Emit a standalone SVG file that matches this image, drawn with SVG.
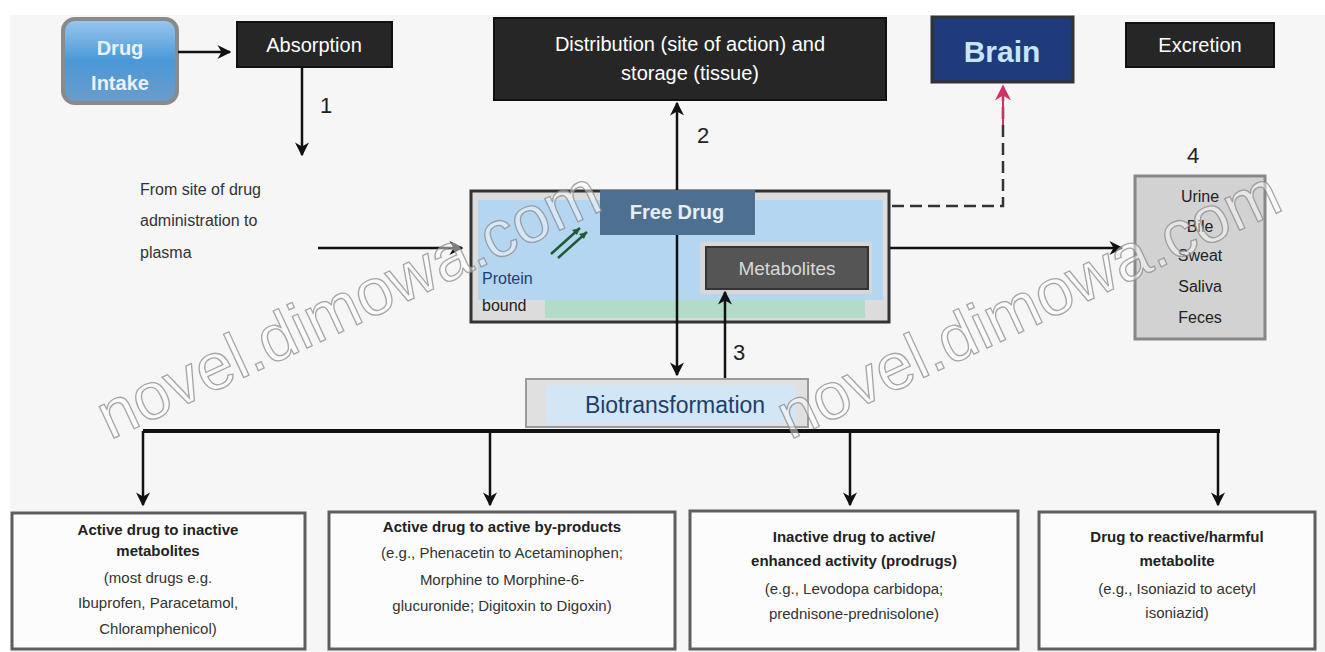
<svg xmlns="http://www.w3.org/2000/svg" width="1325" height="652" viewBox="0 0 1325 652">
<defs>
<style>
.t{font-family:"Liberation Sans",Arial,sans-serif}
.dk{fill:#262626;stroke:#111;stroke-width:2}
.wt{fill:#ffffff;font-size:20px;text-anchor:middle}
.ln{stroke:#111;stroke-width:2.5;fill:none}
.bx{fill:#fcfcfc;stroke:#5e5e5e;stroke-width:3}
.bb{font-size:15px;font-weight:bold;fill:#222;text-anchor:middle}
.bn{font-size:15px;fill:#333;text-anchor:middle}
.ex{font-size:16px;fill:#222;text-anchor:middle}
.wm{font-size:66px;fill:#ffffff;fill-opacity:0.45;stroke:#8a8a8a;stroke-opacity:0.75;stroke-width:1.3;font-family:"Liberation Sans",Arial,sans-serif}
</style>
<marker id="ahb" viewBox="0 0 10 10" refX="9" refY="5" markerWidth="14" markerHeight="14" markerUnits="userSpaceOnUse" orient="auto"><path d="M0,0 L10,5 L0,10 L3,5 z" fill="#111"/></marker>
<marker id="ahr" viewBox="0 0 10 10" refX="9" refY="5" markerWidth="16" markerHeight="16" markerUnits="userSpaceOnUse" orient="auto"><path d="M0,0 L10,5 L0,10 L3,5 z" fill="#d0306a"/></marker>
<linearGradient id="gd" x1="0" y1="0" x2="0" y2="1"><stop offset="0" stop-color="#9cc8ee"/><stop offset="0.5" stop-color="#4a98d8"/><stop offset="1" stop-color="#6c9cc8"/></linearGradient>
</defs>
<rect x="0" y="0" width="1325" height="652" fill="#ffffff"/>
<rect x="10" y="15" width="1315" height="637" fill="#f6f6f6"/>

<g id="drug-intake">
<rect x="63" y="19" width="114" height="84" rx="12" fill="url(#gd)" stroke="#8a8a8a" stroke-width="4"/>
<text class="t" x="120" y="55" font-size="20" font-weight="bold" fill="#e8f2fc" text-anchor="middle">Drug</text>
<text class="t" x="120" y="90" font-size="20" font-weight="bold" fill="#e8f2fc" text-anchor="middle">Intake</text>
</g>

<g id="absorption">
<rect class="dk" x="237" y="22" width="155" height="45"/>
<text class="t wt" x="314" y="52">Absorption</text>
</g>

<g id="from-site" class="t">
<text x="140" y="195" font-size="16" fill="#333">From site of drug</text>
<text x="140" y="226" font-size="16" fill="#333">administration to</text>
<text x="140" y="258" font-size="16" fill="#333">plasma</text>
</g>

<g id="distribution">
<rect class="dk" x="494" y="18" width="392" height="82"/>
<text class="t wt" x="690" y="51">Distribution (site of action) and</text>
<text class="t wt" x="690" y="80">storage (tissue)</text>
</g>

<g id="brain">
<rect x="932" y="17" width="141" height="65" fill="#1f3b7c" stroke="#333" stroke-width="3"/>
<text class="t" x="1002" y="62" font-size="30" font-weight="bold" fill="#c8e6fa" text-anchor="middle">Brain</text>
</g>

<g id="excretion">
<rect class="dk" x="1126" y="23" width="148" height="44"/>
<text class="t wt" x="1200" y="52">Excretion</text>
</g>

<g id="plasma">
<rect x="471" y="191" width="418" height="131" fill="#dcdcdc" stroke="#333" stroke-width="3"/>
<rect x="478" y="200" width="405" height="100" fill="#b4d6f0"/>
<rect x="545" y="300" width="320" height="18" fill="#b2dcc8"/>
<rect x="700" y="242" width="172" height="52" fill="#d6d6d6"/>
<g id="free-drug">
<rect x="600" y="190" width="155" height="45" fill="#4d7090"/>
<text class="t" x="677" y="219" font-size="20" font-weight="bold" fill="#e6eef6" text-anchor="middle">Free Drug</text>
</g>
<g id="metabolites">
<rect x="706" y="247" width="162" height="42" fill="#555555" stroke="#333" stroke-width="2"/>
<text class="t" x="787" y="275" font-size="19" fill="#d8d8d8" text-anchor="middle">Metabolites</text>
</g>
<g id="protein-bound">
<path d="M551,254 L580,228 M558,258 L587,232" stroke="#1f5a34" stroke-width="2.5"/>
<path d="M580,228 l-8,2 l5,5 z M587,232 l-8,2 l5,5 z" fill="#1f5a34"/>
<text class="t" x="482" y="284" font-size="16" fill="#1f3f70">Protein</text>
<text class="t" x="482" y="311" font-size="16" fill="#222">bound</text>
</g>
</g>

<g id="excretion-routes">
<rect x="1135" y="176" width="130" height="163" fill="#d2d2d2" stroke="#888" stroke-width="3"/>
<text class="t ex" x="1200" y="202">Urine</text>
<text class="t ex" x="1200" y="232">Bile</text>
<text class="t ex" x="1200" y="261">Sweat</text>
<text class="t ex" x="1200" y="292">Saliva</text>
<text class="t ex" x="1200" y="323">Feces</text>
</g>

<g id="biotransformation">
<rect x="526" y="379" width="282" height="48" fill="#e0e0e0" stroke="#9a9a9a" stroke-width="2"/>
<rect x="546" y="385" width="250" height="38" fill="#d2e6f6"/>
<text class="t" x="675" y="413" font-size="23" fill="#1d3e6a" text-anchor="middle">Biotransformation</text>
</g>

<g id="box-inactive">
<rect class="bx" x="12" y="513" width="293" height="136"/>
<text class="t bb" x="158" y="535">Active drug to inactive</text>
<text class="t bb" x="158" y="556">metabolites</text>
<text class="t bn" x="158" y="583">(most drugs e.g.</text>
<text class="t bn" x="158" y="608">Ibuprofen, Paracetamol,</text>
<text class="t bn" x="158" y="634">Chloramphenicol)</text>
</g>

<g id="box-active">
<rect class="bx" x="329" y="512" width="346" height="137"/>
<text class="t bb" x="502" y="532">Active drug to active by-products</text>
<text class="t bn" x="502" y="558">(e.g., Phenacetin to Acetaminophen;</text>
<text class="t bn" x="502" y="585">Morphine to Morphine-6-</text>
<text class="t bn" x="502" y="611">glucuronide; Digitoxin to Digoxin)</text>
</g>

<g id="box-prodrugs">
<rect class="bx" x="690" y="511" width="328" height="138"/>
<text class="t bb" x="854" y="542">Inactive drug to active/</text>
<text class="t bb" x="854" y="566">enhanced activity (prodrugs)</text>
<text class="t bn" x="854" y="594">(e.g., Levodopa carbidopa;</text>
<text class="t bn" x="854" y="619">prednisone-prednisolone)</text>
</g>

<g id="box-reactive">
<rect class="bx" x="1039" y="512" width="276" height="137"/>
<text class="t bb" x="1177" y="542">Drug to reactive/harmful</text>
<text class="t bb" x="1177" y="566">metabolite</text>
<text class="t bn" x="1177" y="594">(e.g., Isoniazid to acetyl</text>
<text class="t bn" x="1177" y="618">isoniazid)</text>
</g>

<g id="connectors">
<line class="ln" x1="178" y1="52" x2="230" y2="52" marker-end="url(#ahb)"/>
<line class="ln" x1="302" y1="67" x2="302" y2="155" marker-end="url(#ahb)"/>
<line class="ln" x1="318" y1="248" x2="462" y2="248" marker-end="url(#ahb)"/>
<line class="ln" x1="677" y1="190" x2="677" y2="103" marker-end="url(#ahb)"/>
<line class="ln" x1="677" y1="235" x2="677" y2="375" marker-end="url(#ahb)"/>
<line class="ln" x1="725" y1="378" x2="725" y2="292" marker-end="url(#ahb)"/>
<line class="ln" x1="890" y1="248" x2="1122" y2="248" marker-end="url(#ahb)"/>
<polyline points="892,206 1003,206 1003,88" fill="none" stroke="#333" stroke-width="2.5" stroke-dasharray="12,6"/>
<line x1="1003" y1="125" x2="1003" y2="86" stroke="#d0306a" stroke-width="2" marker-end="url(#ahr)"/>
<line x1="143" y1="431" x2="1220" y2="431" stroke="#111" stroke-width="4"/>
<line class="ln" x1="143" y1="431" x2="143" y2="505" marker-end="url(#ahb)"/>
<line class="ln" x1="490" y1="431" x2="490" y2="505" marker-end="url(#ahb)"/>
<line class="ln" x1="850" y1="431" x2="850" y2="505" marker-end="url(#ahb)"/>
<line class="ln" x1="1218" y1="431" x2="1218" y2="505" marker-end="url(#ahb)"/>
<text class="t" x="320" y="113" font-size="22" fill="#222">1</text>
<text class="t" x="697" y="143" font-size="22" fill="#222">2</text>
<text class="t" x="733" y="360" font-size="22" fill="#222">3</text>
<text class="t" x="1187" y="163" font-size="22" fill="#222">4</text>
</g>

<g id="watermark">
<text class="wm" transform="translate(110,440) rotate(-25)">novel.dimowa.com</text>
<text class="wm" transform="translate(790,440) rotate(-25)">novel.dimowa.com</text>
</g>
</svg>
